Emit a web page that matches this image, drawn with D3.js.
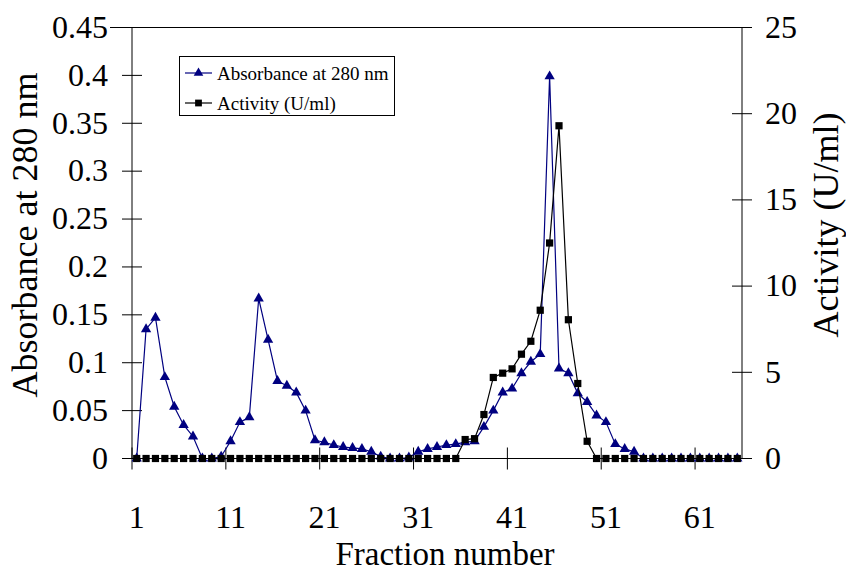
<!DOCTYPE html>
<html>
<head>
	<meta charset="utf-8">
	<title>Fraction profile</title>
	<script src="https://d3js.org/d3.v7.min.js"></script>
	<style>
		body { margin: 0; background: #fff; }
		text { font-family: "Liberation Serif", "Times New Roman", serif; fill: #000; }
	</style>
</head>
<body>
	<svg width="846" height="573"></svg>
	<script>
		// fraction numbers (categories)
		const fractions = [1, 2, 3, 4, 5, 6, 7, 8, 9, 10, 11, 12, 13, 14, 15, 16, 17, 18, 19, 20,
			21, 22, 23, 24, 25, 26, 27, 28, 29, 30, 31, 32, 33, 34, 35, 36, 37, 38, 39, 40,
			41, 42, 43, 44, 45, 46, 47, 48, 49, 50, 51, 52, 53, 54, 55, 56, 57, 58, 59, 60,
			61, 62, 63, 64, 65];

		// absorbance at 280 nm (left axis)
		const absorbance = [0, 0.135, 0.147, 0.085, 0.054, 0.035, 0.023, 0, 0, 0.002,
			0.018, 0.038, 0.043, 0.167, 0.124, 0.081, 0.076, 0.069, 0.050, 0.019,
			0.017, 0.014, 0.012, 0.011, 0.010, 0.007, 0.002, 0, 0, 0.001,
			0.007, 0.010, 0.012, 0.014, 0.015, 0.017, 0.018, 0.033, 0.050, 0.069,
			0.073, 0.089, 0.101, 0.109, 0.399, 0.094, 0.089, 0.068, 0.059, 0.045,
			0.038, 0.015, 0.010, 0.007, 0, 0, 0, 0, 0, 0,
			0, 0, 0, 0, 0];

		// activity U/ml (right axis)
		const activity = [0, 0, 0, 0, 0, 0, 0, 0, 0, 0,
			0, 0, 0, 0, 0, 0, 0, 0, 0, 0,
			0, 0, 0, 0, 0, 0, 0, 0, 0, 0,
			0, 0, 0, 0, 0, 1.1, 1.15, 2.55, 4.7, 4.95,
			5.2, 6.05, 6.8, 8.6, 12.5, 19.3, 8.05, 4.35, 1.0, 0,
			0, 0, 0, 0, 0, 0, 0, 0, 0, 0,
			0, 0, 0, 0, 0];

		const fractionTicks = [1, 11, 21, 31, 41, 51, 61];
		const absorbanceTicks = [0, 0.05, 0.1, 0.15, 0.2, 0.25, 0.3, 0.35, 0.4, 0.45];
		const activityTicks = [0, 5, 10, 15, 20, 25];

		const plotLeft = 132, plotRight = 742, plotTop = 27.5, plotBottom = 458.5;
		const navy = '#000080';

		var svg = d3.select('svg');

		const x = d3.scaleBand().domain(fractions).range([plotLeft, plotRight]).padding(0);
		const bw = x.bandwidth();
		const cx = f => x(f) + bw / 2;
		const yAbs = d3.scaleLinear().domain([0, 0.45]).range([plotBottom, plotTop]);
		const yAct = d3.scaleLinear().domain([0, 25]).range([plotBottom, plotTop]);

		// top border of the plot
		svg.append('line')
			.attr('x1', 110).attr('x2', plotRight)
			.attr('y1', plotTop).attr('y2', plotTop)
			.attr('stroke', '#000');

		// left axis
		const gl = svg.append('g')
			.attr('transform', `translate(${plotLeft},0)`)
			.call(d3.axisLeft(yAbs).tickValues(absorbanceTicks).tickSize(10).tickSizeOuter(0)
				.tickPadding(14).tickFormat(d => String(d)).offset(0));
		gl.selectAll('.tick line').attr('x1', 10);

		// right axis
		const gr = svg.append('g')
			.attr('transform', `translate(${plotRight},0)`)
			.call(d3.axisRight(yAct).tickValues(activityTicks).tickSize(10).tickSizeOuter(0)
				.tickPadding(13).offset(0));
		gr.selectAll('.tick line').attr('x1', -10);

		// bottom axis: ticks on category boundaries, labels centred
		const gb = svg.append('g')
			.attr('transform', `translate(0,${plotBottom})`)
			.call(d3.axisBottom(x).tickValues(fractionTicks).tickSize(11).tickSizeOuter(0)
				.tickPadding(36).offset(0));
		gb.selectAll('.tick line')
			.attr('x1', -bw / 2).attr('x2', -bw / 2)
			.attr('y1', -11).attr('y2', 11);

		[gl, gr, gb].forEach(g => {
			g.attr('font-family', null).attr('font-size', null);
			g.selectAll('text').style('font-size', '32px');
			g.selectAll('line, path').attr('stroke', '#000');
		});

		// axis titles
		svg.append('text')
			.attr('transform', 'translate(37,235) rotate(-90)')
			.attr('text-anchor', 'middle')
			.style('font-size', '36px')
			.text('Absorbance at 280 nm');

		svg.append('text')
			.attr('transform', 'translate(838,225) rotate(-90)')
			.attr('text-anchor', 'middle')
			.style('font-size', '36px')
			.text('Activity (U/ml)');

		svg.append('text')
			.attr('x', 445).attr('y', 565)
			.attr('text-anchor', 'middle')
			.style('font-size', '33px')
			.text('Fraction number');

		// series
		const absData = fractions.map((f, i) => ({ f: f, v: absorbance[i] }));
		const actData = fractions.map((f, i) => ({ f: f, v: activity[i] }));

		svg.append('path')
			.datum(absData)
			.attr('fill', 'none')
			.attr('stroke', navy)
			.attr('stroke-width', 1.2)
			.attr('d', d3.line().x(d => cx(d.f)).y(d => yAbs(d.v)));

		svg.append('g').selectAll('path')
			.data(absData)
			.enter()
			.append('path')
			.attr('transform', d => `translate(${cx(d.f)},${yAbs(d.v)})`)
			.attr('d', d3.symbol(d3.symbolTriangle, 46))
			.attr('fill', navy);

		svg.append('path')
			.datum(actData)
			.attr('fill', 'none')
			.attr('stroke', '#000')
			.attr('stroke-width', 1.2)
			.attr('d', d3.line().x(d => cx(d.f)).y(d => yAct(d.v)));

		svg.append('g').selectAll('path')
			.data(actData)
			.enter()
			.append('path')
			.attr('transform', d => `translate(${cx(d.f)},${yAct(d.v)})`)
			.attr('d', d3.symbol(d3.symbolSquare, 52))
			.attr('fill', '#000');

		// legend
		const legend = svg.append('g');
		legend.append('rect')
			.attr('x', 179.5).attr('y', 56.5)
			.attr('width', 215).attr('height', 59)
			.attr('fill', '#fff').attr('stroke', '#000');

		const items = [
			{ label: 'Absorbance at 280 nm', color: navy, shape: d3.symbolTriangle, size: 40, y: 73 },
			{ label: 'Activity (U/ml)', color: '#000', shape: d3.symbolSquare, size: 46, y: 103 }
		];
		items.forEach(it => {
			legend.append('line')
				.attr('x1', 185).attr('x2', 212)
				.attr('y1', it.y).attr('y2', it.y)
				.attr('stroke', it.color).attr('stroke-width', 1.2);
			legend.append('path')
				.attr('transform', `translate(198.5,${it.y})`)
				.attr('d', d3.symbol(it.shape, it.size))
				.attr('fill', it.color);
			legend.append('text')
				.attr('x', 217).attr('y', it.y + 6.5)
				.style('font-size', '19px')
				.text(it.label);
		});
	</script>
</body>
</html>
